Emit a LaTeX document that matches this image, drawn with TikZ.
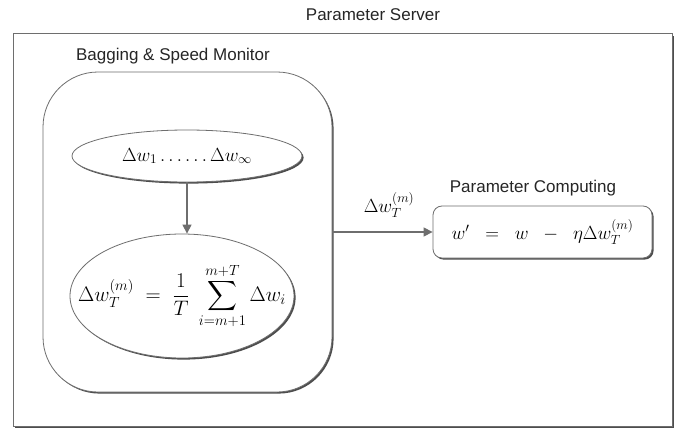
\RequirePackage{fix-cm}
\documentclass[tikz,border=0pt]{standalone}
\usepackage{exscale}
\usepackage[no-math]{fontspec}
\setmainfont{Liberation Sans}
\usetikzlibrary{shadows,arrows.meta,shapes.geometric}
\definecolor{linegray}{HTML}{6E6E6E}
\definecolor{shadowgray}{HTML}{3A3A3A}
\tikzset{
  shad/.style={drop shadow={shadow xshift=1.6pt, shadow yshift=-1.6pt, fill=shadowgray, opacity=0.9}},
  outerbox/.style={draw=linegray, line width=1pt, fill=white, shad},
  bagbox/.style={draw=linegray, line width=0.8pt, fill=white, rounded corners=55pt, shad},
  ellbox/.style={draw=linegray, line width=0.8pt, fill=white, ellipse, inner sep=0pt, shad},
  pcbox/.style={draw=linegray, line width=0.8pt, fill=white, rounded corners=9pt, shad},
  lbl/.style={font=\fontsize{17}{20}\selectfont, text=black!85},
  mathtxt/.style={font=\fontsize{19}{22}\selectfont, inner sep=0pt},
  conn/.style={draw=linegray, line width=1.3pt, -{Triangle[width=9pt,length=9pt]}},
}
\begin{document}
\begin{tikzpicture}[x=1pt,y=-1pt]
\useasboundingbox (0,0) rectangle (689,428);
\fill[white] (0,0) rectangle (689,428);
\node[outerbox, minimum width=659pt, minimum height=392pt, inner sep=0pt] (server) at (343,230) {};
\node[lbl] (servertitle) at (373,15) {Parameter Server};
\node[lbl] (bagtitle) at (173,56) {Bagging \& Speed Monitor};
\node[bagbox, minimum width=289pt, minimum height=320pt, inner sep=0pt] (bag) at (187.5,232) {};
\node[ellbox, minimum width=230pt, minimum height=52pt] (top) at (187,156) {};
\node[mathtxt] (toptext) at (top.center) {$\Delta w_1\ldots\ldots\Delta w_\infty$};
\node[ellbox, minimum width=224pt, minimum height=124pt] (low) at (182,296) {};
\node[mathtxt, font=\fontsize{21}{24}\selectfont] (lowtext) at (low.center)
  {$\displaystyle \Delta w_T^{(m)} \;=\; \frac{1}{T}\;\sum_{i=m+1}^{m+T}\Delta w_i$};
\node[pcbox, minimum width=219pt, minimum height=52pt] (pc) at (542.5,232) {};
\node[mathtxt] (pctext) at (pc.center) {$w' \;\;=\;\; w \;\;-\;\; \eta\Delta w_T^{(m)}$};
\node[lbl] (pctitle) at (533,188) {Parameter Computing};
\node[mathtxt] (dlabel) at (389,205) {$\Delta w_T^{(m)}$};
\draw[conn] (top.south) -- (top.south |- low.north);
\draw[conn] (bag.east |- pc.west) -- (pc.west);
\end{tikzpicture}
\end{document}
